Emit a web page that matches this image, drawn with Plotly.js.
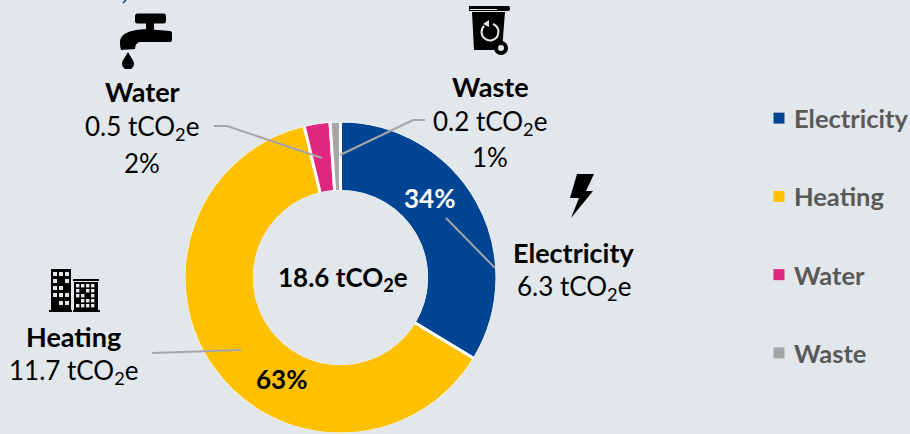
<!DOCTYPE html>
<html><head><meta charset="utf-8">
<script src="https://cdn.plot.ly/plotly-3.0.1.min.js"></script>
<style>html,body{margin:0;padding:0;background:#E2E7EB;overflow:hidden}</style>
</head><body><div id="chart" style="width:910px;height:434px"></div>
<script>
const categories = ['Electricity','Heating','Water','Waste'];
const emissions = [6.3,11.7,0.5,0.2];
const shares = [34,63,2,1];
const colors = ['#004494','#FFC000','#E0267F','#A6A6A6'];
const totalLabel = '18.6';

const W=910,H=434,FONT='Lato, Carlito, sans-serif',GREY='#A6A6A6',BG='#E2E7EB';
const px=x=>x/W, py=y=>1-y/H;
const note=(text,x,y,o={})=>Object.assign({text,xref:'paper',yref:'paper',x:px(x),y:py(y),showarrow:false,xanchor:'center',yanchor:'middle',
  font:{family:FONT,size:26,color:'#000'}},o);
const bold=t=>'<b>'+t+'</b>';
const label=t=>note(t[0],t[1],t[2],{font:{family:FONT,size:27,color:'#000'}});
const co2=v=>v+' tCO<sub>2</sub>e';
const leader=pts=>({type:'path',xref:'paper',yref:'paper',layer:'above',line:{color:GREY,width:2},
  path:pts.map((p,i)=>(i?'L':'M')+px(p[0])+','+py(p[1])).join(' ')});
const ring=(r,o)=>Object.assign({type:'circle',xref:'paper',yref:'paper',layer:'above',x0:px(340.5-r),x1:px(340.5+r),y0:py(277.5+r),y1:py(277.5-r)},o);
const svg=(w,h,body)=>'data:image/svg+xml;utf8,'+encodeURIComponent('<svg xmlns="http://www.w3.org/2000/svg" width="'+w+'" height="'+h+'" viewBox="0 0 '+w+' '+h+'">'+body+'</svg>');
const image=(src,x,y,w,h)=>({source:src,xref:'paper',yref:'paper',x:px(x),y:py(y),sizex:w/W,sizey:h/H,xanchor:'left',yanchor:'top',sizing:'stretch',layer:'above'});

const tap=svg(52,56,'<rect x="15" y="0.5" width="31" height="10" rx="2.5"/><rect x="26" y="10" width="8" height="10"/>'+
 '<path d="M0 30 C0 20 10 17 26 16 L50 18 Q52 18 52 20 L52 27 Q52 29 50 29 L20 29 Q15 30 15 36 L1 37 Q0 34 0 30Z"/>'+
 '<path d="M8 39 C11 45 14 47 14 51 A6 5.5 0 0 1 2 51 C2 47 5 45 8 39Z"/>');
const bin=svg(42,49,'<path d="M0 0 H40 Q42 2 40 5 H0Z"/><rect x="1" y="3" width="27" height="1" fill="#E2E7EB"/><path d="M3 6 H36 L33 44 H5Z"/><circle cx="32" cy="42" r="7" fill="#000"/><circle cx="32" cy="42" r="3" fill="#E2E7EB"/>'+
 '<path d="M15 20 A8.5 8.5 0 1 0 24 18" fill="none" stroke="#E2E7EB" stroke-width="2"/><path d="M20 14 L20 21 L14 18Z" fill="#E2E7EB"/>');
const bolt=svg(24,44,'<path d="M7 0 H24 L16 17 H23 L1 44 L9 24 H0Z"/>');
let b='<rect x="2" y="1" width="20" height="43"/><rect x="0" y="42" width="23" height="2"/><rect x="25" y="14" width="24" height="30"/><rect x="24" y="11" width="26" height="2"/><rect x="24" y="42" width="27" height="2"/>';
const cells=[[4,4],[10,4],[16,4],[4,11],[16,11],[4,18],[10,18],[4,25],[10,25],[16,25],[10,33],[16,33]];
cells.forEach(c=>b+='<rect x="'+c[0]+'" y="'+c[1]+'" width="4" height="4" fill="#E2E7EB"/>');
[27,32,37,42].forEach(x=>[16,21,26,31,36].forEach(y=>{ if(!((x==32&&y==21)||(x==37&&y==26)||(x==27&&y==31))) b+='<rect x="'+x+'" y="'+y+'" width="3.4" height="3.4" fill="#E2E7EB"/>';}));
const buildings=svg(51,45,b);

const keyRows=[118,196,275,353];
const data=[
 {type:'pie',labels:categories,values:emissions,sort:false,direction:'clockwise',rotation:0,hole:0.55,
  marker:{colors,line:{color:'#FFFFFF',width:3}},textinfo:'none',hoverinfo:'label+value',showlegend:false,
  domain:{x:[px(184),px(497)],y:[0,py(121)]}},
 {type:'scatter',mode:'markers',x:categories.map(()=> 'key'),y:categories,xaxis:'x',yaxis:'y',hoverinfo:'skip',showlegend:false,
  marker:{symbol:'square',size:11,color:colors,line:{width:0}}}
];
const axisOff={visible:false,fixedrange:true};
const layout={width:W,height:H,margin:{l:0,r:0,t:0,b:0},paper_bgcolor:BG,plot_bgcolor:'rgba(0,0,0,0)',showlegend:false,
 font:{family:FONT},
 xaxis:Object.assign({type:'category',domain:[px(769),px(789)],categoryorder:'array',categoryarray:['key']},axisOff),
 yaxis:Object.assign({type:'category',domain:[py(392),py(79)],categoryorder:'array',categoryarray:categories,range:[3.5,-0.5]},axisOff),
 shapes:[
  ring(157.5,{line:{color:BG,width:4}}),
  ring(87.5,{fillcolor:BG,line:{width:0}}),
  leader([[214,126],[227,126],[322,158]]),
  leader([[425,120],[413,120],[340,155]]),
  leader([[152,353],[241,350]]),
  leader([[446,218],[495,268]]),
  {type:'line',xref:'paper',yref:'paper',x0:px(126),y0:py(0),x1:px(123),y1:py(3),line:{color:'#004494',width:1.5}}
 ],
 images:[image(tap,120,13,52,56),image(bin,469,6,42,49),image(bolt,570,174,24,44),image(buildings,49,268,51,45)],
 annotations:[
  label([bold(categories[2]),142,91]),note(co2(emissions[2]),142,127),note(shares[2]+'%',142,163),
  label([bold(categories[3]),490,86]),note(co2(emissions[3]),490,122),note(shares[3]+'%',490,157),
  label([bold(categories[0]),574,252]),note(co2(emissions[0]),574,287),
  label([bold(categories[1]),73,336]),note(co2(emissions[1]),73,371),
  note(bold(shares[0]+'%'),429,198,{font:{family:FONT,size:26,color:'#fff'}}),
  note(bold(shares[1]+'%'),281,379),
  note(bold(co2(totalLabel)),343,278),
  ...categories.map((c,i)=>note(bold(c),794,keyRows[i],{xanchor:'left',xshift:-2,font:{family:FONT,size:25.5,color:'#595959'}}))
 ]
};
Plotly.newPlot('chart',data,layout,{displayModeBar:false,staticPlot:true});
</script></body></html>
